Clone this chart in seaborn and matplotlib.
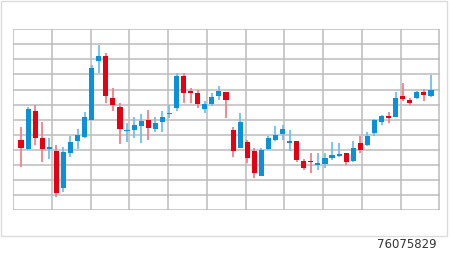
import numpy as np
import pandas as pd
import matplotlib
matplotlib.use("Agg")
import matplotlib.pyplot as plt
from matplotlib.patches import Rectangle
import seaborn as sns

# OHLC values (grid step = 10)
opens = [46.5, 40.5, 65.7, 47.6, 40.3, 39.4, 14.8, 38.0, 45.8, 48.3,
         59.8, 99.1, 102.5, 74.6, 68.6, 52.5, 53.1, 55.8, 59.8, 53.6,
         58.6, 63.7, 67.9, 89.0, 79.0, 77.9, 67.1, 70.2, 75.9, 78.2,
         53.1, 41.0, 45.4, 39.2, 22.6, 40.3, 46.5, 50.3, 44.3, 45.8,
         32.7, 32.5, 29.9, 30.3, 34.3, 36.1, 38.0, 32.5, 44.3, 43.2,
         50.9, 58.6, 62.0, 61.6, 75.9, 73.0, 74.2, 78.2, 75.7]
highs = [54.9, 68.6, 69.7, 58.4, 47.8, 43.2, 42.0, 49.1, 53.8, 65.3,
         96.3, 109.6, 104.0, 80.8, 71.2, 57.6, 61.6, 63.7, 66.4, 62.0,
         65.9, 69.7, 90.8, 90.8, 80.8, 79.7, 72.4, 77.5, 82.5, 78.2,
         55.3, 64.2, 46.5, 41.4, 41.2, 49.3, 55.8, 56.4, 53.1, 45.8,
         33.7, 37.6, 38.0, 37.6, 45.4, 44.3, 38.0, 45.8, 49.1, 52.0,
         60.2, 63.1, 65.3, 78.2, 84.1, 74.2, 79.0, 80.1, 89.6]
lows = [28.4, 39.8, 43.2, 32.1, 33.7, 8.8, 12.2, 35.4, 40.5, 48.0,
        59.5, 91.2, 71.2, 65.7, 43.8, 45.4, 47.6, 44.7, 46.5, 52.0,
        52.0, 60.9, 65.7, 70.8, 71.2, 67.9, 64.6, 69.1, 73.0, 60.9,
        35.4, 41.0, 31.4, 21.0, 22.6, 39.8, 45.8, 46.5, 39.4, 31.7,
        26.6, 24.8, 26.6, 27.7, 33.2, 35.4, 29.9, 32.1, 38.0, 42.5,
        49.1, 56.4, 57.6, 61.6, 72.6, 69.7, 73.5, 72.6, 74.8]
closes = [41.0, 67.1, 48.0, 40.3, 42.0, 11.5, 38.7, 45.2, 49.8, 61.6,
          94.5, 102.5, 75.7, 69.5, 53.6, 53.1, 56.4, 59.3, 54.2, 57.6,
          62.0, 64.6, 89.2, 77.5, 77.9, 70.2, 70.2, 75.2, 79.0, 73.0,
          39.2, 58.6, 34.7, 24.4, 39.8, 48.0, 49.6, 53.8, 45.8, 33.2,
          27.7, 31.9, 31.4, 34.3, 36.5, 37.2, 32.1, 41.4, 39.8, 49.1,
          59.8, 62.4, 61.3, 74.2, 73.7, 71.2, 78.2, 76.4, 79.7]
footer_text = "76075829"

df = pd.DataFrame({"open": opens, "high": highs, "low": lows, "close": closes})
df["idx"] = np.arange(len(df))
df["up"] = df["close"] >= df["open"]

sns.set_theme(style="white")
plt.rcParams['font.family'] = ['DejaVu Sans']

fig = plt.figure(figsize=(4.5, 2.56), dpi=100)
fig.patch.set_facecolor("white")

# light frame around the picture area
fig.patches.append(Rectangle((0.5 / 450, 1 - 236 / 256), 446 / 450, 235.5 / 256,
                             transform=fig.transFigure, fill=False,
                             edgecolor="#dcdcdc", linewidth=1.0))

ax = fig.add_axes([13 / 450, 1 - 210 / 256, (439.5 - 13) / 450, (210 - 29.3) / 256])
ax.set_facecolor("white")

n = len(df)
x0, x1 = -1.13, (n - 1) + 1.2
ax.set_xlim(x0, x1)
ax.set_ylim(0, 120)
ax.set_xticks(np.linspace(x0, x1, 12))
ax.set_yticks(np.arange(0, 121, 10))
ax.grid(True, color="#bcbcbc", linewidth=1.1)
ax.set_axisbelow(True)
ax.tick_params(left=False, bottom=False, labelleft=False, labelbottom=False)
for s in ax.spines.values():
    s.set_visible(False)

red, blue = "#e60012", "#0a91d9"
red_w, blue_w = "#f2808a", "#6fc0ee"

for up, body_c, wick_c in [(True, blue, blue_w), (False, red, red_w)]:
    d = df[df["up"] == up]
    ax.vlines(d["idx"], d["low"], d["high"], color=wick_c, linewidth=1.3, zorder=2)
    bottom = np.minimum(d["open"], d["close"])
    height = np.maximum(np.abs(d["close"] - d["open"]), 0.9)
    ax.bar(d["idx"], height, bottom=bottom, width=0.72, color=body_c,
           edgecolor="none", zorder=3)

fig.text(437 / 450, 1 - 244 / 256, footer_text, ha="right", va="center",
         fontsize=8.5, color="#333333")

fig.savefig("out.png", dpi=100, facecolor="white")
